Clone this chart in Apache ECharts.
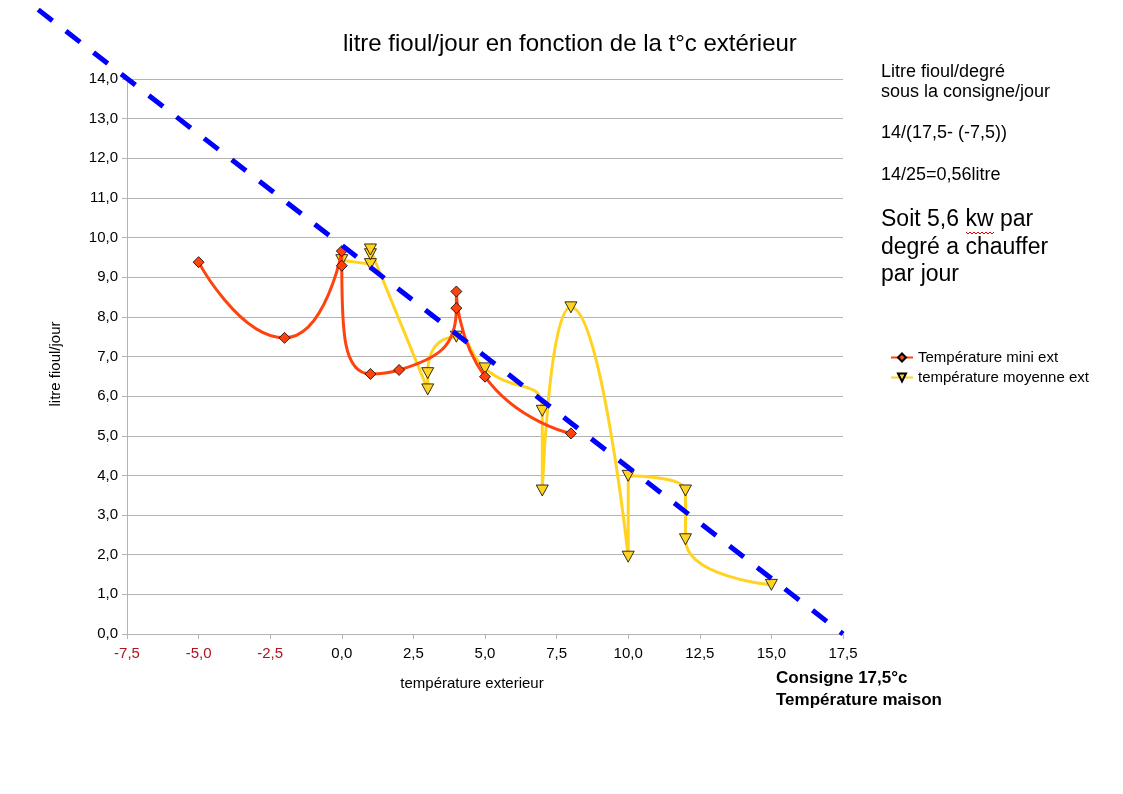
<!DOCTYPE html>
<html><head><meta charset="utf-8">
<script src="https://cdn.jsdelivr.net/npm/echarts@6/dist/echarts.min.js"></script>
<style>html,body{margin:0;padding:0;background:#fff}#c{width:1123px;height:794px}</style>
</head><body><div id="c"></div>
<script>
// Température mini ext
const miniX = [-5, -2, 0, 0, 1, 2, 4, 4, 5, 8];
const miniY = [9.38, 7.47, 9.66, 9.29, 6.56, 6.66, 8.22, 8.64, 6.49, 5.06];
// température moyenne ext
const moyX = [0, 1, 1, 1, 3, 3, 4, 5, 7, 7, 8, 10, 10, 12, 12, 15];
const moyY = [9.43, 9.33, 9.58, 9.70, 6.17, 6.58, 7.50, 6.70, 5.63, 3.62, 8.24, 1.95, 3.99, 3.62, 2.39, 1.24];
// droite consigne (extrémités)
const trendX = [-10.6, 17.5];
const trendY = [15.75, 0];

const seriesNames = ['Température mini ext', 'température moyenne ext'];
const title = 'litre fioul/jour en fonction de la t°c extérieur';
const xName = 'température exterieur';
const yName = 'litre fioul/jour';

const zip = (xs, ys) => xs.map((x, i) => [x, ys[i]]);
const fmt = v => v.toFixed(1).replace('.', ',');
const FONT = 'Liberation Sans';

const chart = echarts.init(document.getElementById('c'), null, {renderer: 'canvas'});
chart.setOption({
  animation: false,
  backgroundColor: '#fff',
  textStyle: {fontFamily: FONT},
  title: {
    text: title, left: 338, top: 27,
    textStyle: {fontFamily: FONT, fontSize: 24, fontWeight: 'normal', color: '#000'}
  },
  grid: {left: 127, right: 280, top: 79, bottom: 160, containLabel: false},
  legend: {
    data: seriesNames, orient: 'vertical', left: 885, top: 345,
    itemWidth: 22, itemHeight: 10, itemGap: 5,
    textStyle: {fontFamily: FONT, fontSize: 15, color: '#000'}
  },
  xAxis: {
    type: 'value', min: -7.5, max: 17.5, interval: 2.5,
    name: xName, nameLocation: 'middle', nameGap: 42,
    nameTextStyle: {fontFamily: FONT, fontSize: 15, color: '#000', padding: [0, 26, 0, 0]},
    axisLine: {show: true, onZero: false, lineStyle: {color: '#b3b3b3', width: 1}},
    axisTick: {show: true, length: 5, lineStyle: {color: '#b3b3b3'}},
    splitLine: {show: false},
    axisLabel: {
      margin: 12, fontSize: 15, fontFamily: FONT,
      formatter: fmt,
      color: v => (v < 0 ? '#b0141c' : '#000')
    }
  },
  yAxis: {
    type: 'value', min: 0, max: 14, interval: 1,
    name: yName, nameLocation: 'middle', nameGap: 64, nameRotate: 90,
    nameTextStyle: {fontFamily: FONT, fontSize: 15, color: '#000', padding: [0, 15, 0, 0]},
    axisLine: {show: true, onZero: false, lineStyle: {color: '#b3b3b3', width: 1}},
    axisTick: {show: true, length: 5, lineStyle: {color: '#b3b3b3'}},
    splitLine: {show: true, lineStyle: {color: '#b3b3b3', width: 1}},
    axisLabel: {margin: 9, fontSize: 15, fontFamily: FONT, color: '#000', formatter: fmt}
  },
  series: [
    {
      name: seriesNames[0], type: 'line', data: zip(miniX, miniY),
      smooth: 0.6, symbol: 'diamond', symbolSize: 11,
      lineStyle: {color: '#ff420e', width: 3},
      itemStyle: {color: '#ff420e', borderColor: '#000', borderWidth: 0.8},
      z: 3
    },
    {
      name: seriesNames[1], type: 'line', data: zip(moyX, moyY),
      smooth: 0.6, symbol: 'triangle', symbolRotate: 180, symbolSize: [12, 11],
      lineStyle: {color: '#ffd320', width: 3},
      itemStyle: {color: '#ffd320', borderColor: '#000', borderWidth: 0.8},
      z: 2
    },
    {
      name: 'consigne', type: 'custom', clip: false, silent: true, z: 4,
      data: [[trendX[0], trendY[0], trendX[1], trendY[1]]],
      encode: {x: [0, 2], y: [1, 3]},
      renderItem: (params, api) => {
        const p0 = api.coord([api.value(0), api.value(1)]);
        const p1 = api.coord([api.value(2), api.value(3)]);
        return {
          type: 'line',
          shape: {x1: p0[0], y1: p0[1], x2: p1[0], y2: p1[1]},
          style: {stroke: '#0000ff', lineWidth: 5, lineDash: [18, 17], lineCap: 'butt', fill: null}
        };
      }
    }
  ],
  graphic: [
    {type: 'text', left: 881, top: 62, style: {text: 'Litre fioul/degré\nsous la consigne/jour', font: '18px "Liberation Sans"', fill: '#000', lineHeight: 20}},
    {type: 'text', left: 881, top: 124, style: {text: '14/(17,5- (-7,5))', font: '18px "Liberation Sans"', fill: '#000'}},
    {type: 'text', left: 881, top: 166, style: {text: '14/25=0,56litre', font: '18px "Liberation Sans"', fill: '#000'}},
    {type: 'text', left: 881, top: 206, style: {text: 'Soit 5,6 kw par\ndegré a chauffer\npar jour', font: '23px "Liberation Sans"', fill: '#000', lineHeight: 27.5}},
    {type: 'polyline', silent: true, shape: {points: [[966,232],[968,234],[970,232],[972,234],[974,232],[976,234],[978,232],[980,234],[982,232],[984,234],[986,232],[988,234],[990,232],[992,234],[994,232]]}, style: {stroke: '#e00000', lineWidth: 1, fill: null}},
    {type: 'text', left: 776, top: 667, style: {text: 'Consigne 17,5°c\nTempérature maison', font: 'bold 17px "Liberation Sans"', fill: '#000', lineHeight: 22}}
  ]
});
</script></body></html>
